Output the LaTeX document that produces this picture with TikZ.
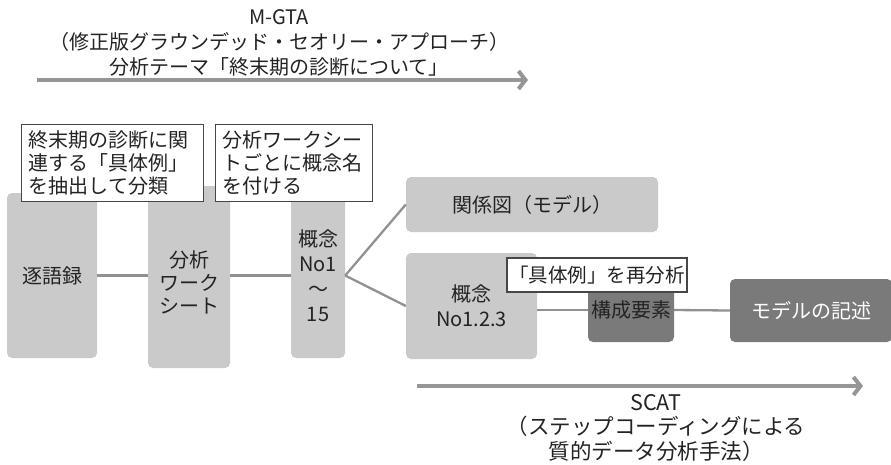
\documentclass[tikz,border=0pt]{standalone}
\usepackage{fontspec}
\setmainfont{Noto Sans CJK JP}
\usetikzlibrary{arrows.meta}
\definecolor{boxlight}{RGB}{202,202,202}
\definecolor{boxdark}{RGB}{122,122,122}
\definecolor{linegray}{RGB}{145,145,145}
\definecolor{arrowgray}{RGB}{150,150,150}
\definecolor{txt}{RGB}{35,35,35}
\definecolor{annline}{RGB}{70,70,70}
\begin{document}
\begin{tikzpicture}[x=1pt,y=-1pt,
  lbox/.style={fill=boxlight, rounded corners=5pt, inner sep=0pt, align=center, text=txt, font=\fontsize{20}{24}\selectfont},
  dbox/.style={fill=boxdark, rounded corners=5pt, inner sep=0pt, align=center, font=\fontsize{20}{24}\selectfont},
  annbox/.style={draw=annline, line width=1.4pt, fill=white, inner xsep=7pt, inner ysep=0pt, align=left, text=txt, font=\fontsize{20}{23}\selectfont},
  conn/.style={draw=linegray, line width=2.3pt},
  flow/.style={draw=arrowgray, line width=4pt, -{Straight Barb[length=7pt,width=18pt]}},
  caption/.style={align=center, text=txt}]
\useasboundingbox (0,0) rectangle (891,464);

% top flow
\node[caption, font=\fontsize{20}{25}\selectfont] (mgta) at (279,43) {M-GTA\\（修正版グラウンデッド・セオリー・アプローチ）\\分析テーマ「終末期の診断について」};
\coordinate (ta) at (37,80);
\coordinate (tb) at (528,80);
\draw[flow] (ta) -- (tb);

% gray boxes
\node[lbox, minimum width=90pt, minimum height=165pt] (gyo) at (52,275.5) {逐語録};
\node[lbox, minimum width=82pt, minimum height=182pt] (ws) at (189,277) {\raisebox{-9pt}[\height][\depth]{\fontsize{20}{23}\selectfont\begin{tabular}{@{}c@{}}分析\\ワーク\\シート\end{tabular}}};
\node[lbox, minimum width=54pt, minimum height=165pt, font=\fontsize{20}{25}\selectfont] (gn) at (318,275.5) {概念\\No1\\〜\\15};
\node[lbox, minimum width=252pt, minimum height=55pt] (rel) at (532,204.5) {関係図（モデル）};
\node[lbox, minimum width=131pt, minimum height=106pt, font=\fontsize{20}{25}\selectfont] (k123) at (471.5,306) {概念\\No1.2.3};
\node[dbox, minimum width=86pt, minimum height=64pt, text=txt] (kosei) at (631,310) {構成要素};
\node[dbox, minimum width=162pt, minimum height=63pt, text=white] (model) at (811,310.5) {モデルの記述};

% connectors
\draw[conn] (gyo.east) -- (ws.west |- gyo.east);
\draw[conn] (ws.east |- gyo.east) -- (gn.west);
\draw[conn] (gn.east) -- (rel.west);
\draw[conn] (gn.east) -- (k123.west);
\draw[conn] (k123.east |- kosei.west) -- (kosei.west);
\draw[conn] (kosei.east) -- (model.west);

% annotation boxes
\node[annbox, anchor=north west, text width=168pt, minimum height=77pt] (ann1) at (21,124) {終末期の診断に関\\連する「具体例」\\を抽出して分類};
\node[annbox, anchor=north west, text width=143pt, minimum height=77pt] (ann2) at (215,124) {分析ワークシー\\トごとに概念名\\を付ける};
\node[annbox, inner xsep=0pt, align=center, minimum width=180pt, minimum height=34pt, font=\fontsize{19.5}{23}\selectfont] (ann3) at (597,275) {「具体例」を再分析};

% bottom flow
\coordinate (ba) at (417,386);
\coordinate (bb) at (863,386);
\draw[flow] (ba) -- (bb);
\node[caption, font=\fontsize{21.5}{24.5}\selectfont] (scat) at (656,428) {SCAT\\（ステップコーディングによる\\質的データ分析手法）};
\end{tikzpicture}
\end{document}
